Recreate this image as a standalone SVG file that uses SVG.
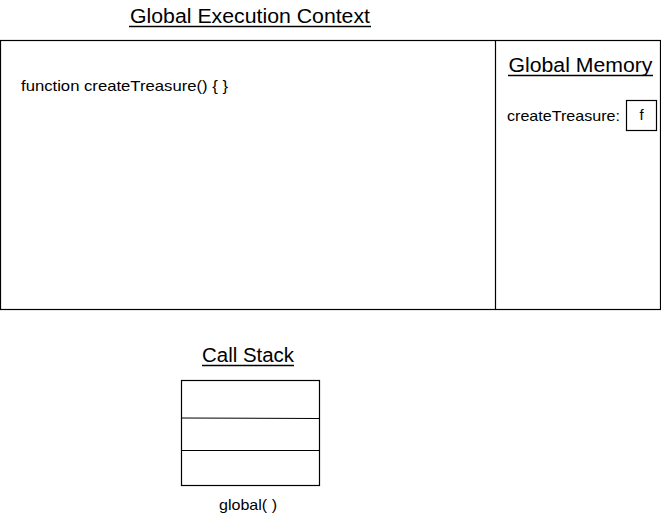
<svg xmlns="http://www.w3.org/2000/svg" width="661" height="520" viewBox="0 0 661 520">
<style>
text{font-family:"Liberation Sans",Arial,sans-serif;fill:#000}
.t{font-size:20px}
.b{font-size:15px}
.box{fill:none;stroke:#000;stroke-width:1.2}
.ul{stroke:#000;stroke-width:1.3}
</style>
<rect width="661" height="520" fill="#fff"/>
<g id="global-execution-context">
<text class="t" x="250" y="23" text-anchor="middle" textLength="240" lengthAdjust="spacingAndGlyphs">Global Execution Context</text>
<line class="ul" x1="129" y1="26.5" x2="371" y2="26.5"/>
<rect class="box" x="0.5" y="40.5" width="660" height="269"/>
<text class="b" x="21" y="91" textLength="207" lengthAdjust="spacingAndGlyphs">function createTreasure() { }</text>
</g>
<g id="global-memory">
<line class="box" x1="495.5" y1="40.5" x2="495.5" y2="309.5"/>
<text class="t" x="580.5" y="72" text-anchor="middle" textLength="144" lengthAdjust="spacingAndGlyphs">Global Memory</text>
<line class="ul" x1="508" y1="75.5" x2="653" y2="75.5"/>
<text class="b" x="507" y="121" textLength="113" lengthAdjust="spacingAndGlyphs">createTreasure:</text>
<rect class="box" x="626.5" y="100.5" width="30" height="30"/>
<text class="b" x="641.5" y="120" text-anchor="middle">f</text>
</g>
<g id="call-stack">
<text class="t" x="248" y="362" text-anchor="middle" textLength="92" lengthAdjust="spacingAndGlyphs">Call Stack</text>
<line class="ul" x1="202" y1="365.5" x2="294" y2="365.5"/>
<rect class="box" x="181.5" y="380.5" width="138" height="105"/>
<line class="box" x1="181.5" y1="418" x2="319.5" y2="418.5"/>
<line class="box" x1="181.5" y1="450.5" x2="319.5" y2="450.5"/>
<text class="b" x="248" y="510" text-anchor="middle" textLength="58" lengthAdjust="spacingAndGlyphs">global( )</text>
</g>
<g id="connectors"></g>
</svg>
